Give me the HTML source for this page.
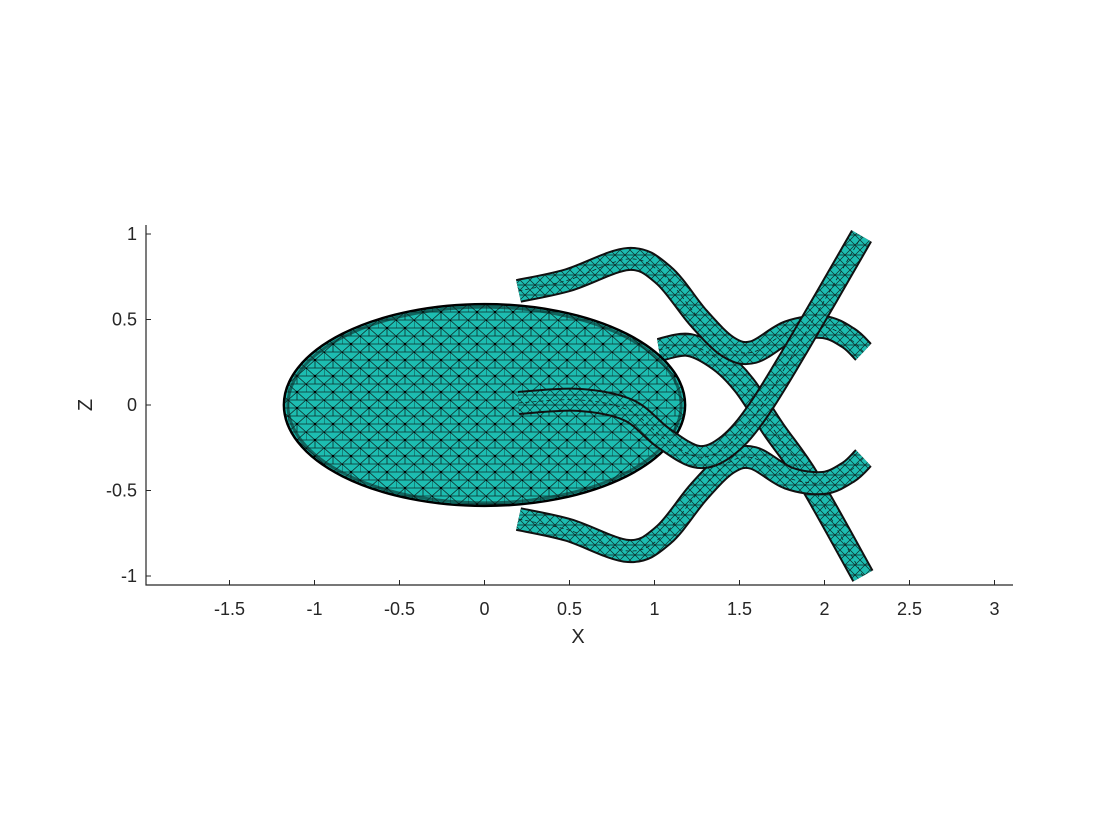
<!DOCTYPE html>
<html><head><meta charset="utf-8"><style>
html,body{margin:0;padding:0;background:#fff;}
svg{display:block;font-family:"Liberation Sans",Arial,sans-serif;}
</style></head><body>
<svg id="chart" width="1120" height="840" viewBox="0 0 1120 840">
<defs>
<pattern id="mesh" width="18" height="16" patternUnits="userSpaceOnUse">
<rect width="18" height="16" fill="#1dbdb1"/>
<path d="M0 0 L18 0 M0 8 L18 8 M0 16 L18 16 M0 0 L9 8 L18 0 M0 16 L9 8 L18 16 M9 8 L9 16 M0 8 L0 0" stroke="#0d2b28" stroke-width="0.8" fill="none"/>
<circle cx="9" cy="8" r="1.2" fill="#000"/><circle cx="0" cy="0" r="1.2" fill="#000"/>
</pattern>
<pattern id="tmesh" width="10" height="10" patternUnits="userSpaceOnUse">
<rect width="10" height="10" fill="#1dbdb1"/>
<path d="M0 0 L10 10 M10 0 L0 10 M0 5 L10 5" stroke="#0d2b28" stroke-width="0.7" fill="none"/>
</pattern>
</defs>
<g id="axes"></g>
<g id="marks"></g>
</svg>
<script>
const xTicks=[-1.5,-1,-0.5,0,0.5,1,1.5,2,2.5,3];
const zTicks=[-1,-0.5,0,0.5,1];
const ellipseCenter=[0,0];
const ellipseRadii=[1.18,0.59];
const tubeAx=[0.2,0.494,0.847,1.053,1.259,1.435,1.582,1.788,1.994,2.141,2.229];
const tubeAz=[0.667,0.731,0.854,0.760,0.509,0.339,0.310,0.427,0.456,0.392,0.310];
const tubeBx=[0.2,0.494,0.847,1.053,1.259,1.435,1.582,1.788,1.994,2.141,2.229];
const tubeBz=[-0.667,-0.731,-0.854,-0.760,-0.509,-0.339,-0.310,-0.427,-0.456,-0.392,-0.310];
const tubeCx=[0.2,0.553,0.847,1.053,1.259,1.435,1.612,1.847,2.218];
const tubeCz=[0.012,0.03,-0.03,-0.193,-0.304,-0.234,-0.029,0.351,0.988];
const tubeDx=[1.026,1.203,1.38,1.527,1.703,1.909,2.226];
const tubeDz=[0.322,0.351,0.263,0.117,-0.146,-0.439,-1.0];

const X=v=>484.5+(v)*170;
const Z=v=>405-(v)*171;
const NS='http://www.w3.org/2000/svg';
function mk(tag,attrs,parent){const e=document.createElementNS(NS,tag);for(const k in attrs)e.setAttribute(k,attrs[k]);parent.appendChild(e);return e;}
const axes=document.getElementById('axes');
const marks=document.getElementById('marks');
const L=146,R=1013,T=225,B=585;
const ax=mk('path',{d:`M${L} ${T} L${L} ${B} L${R} ${B}`,stroke:'#262626','stroke-width':1.2,fill:'none'},axes);


xTicks.forEach(t=>{
 const tk=mk('line',{x1:X(t),x2:X(t),y1:B,y2:B-5,stroke:'#262626','stroke-width':1},axes);
 
 
 const tx=mk('text',{x:X(t),y:615,'text-anchor':'middle','font-size':18,fill:'#262626'},axes);
 tx.textContent=String(t);
 
 
});
zTicks.forEach(t=>{
 const tk=mk('line',{x1:L,x2:L+5,y1:Z(t),y2:Z(t),stroke:'#262626','stroke-width':1},axes);
 
 
 const tx=mk('text',{x:L-9,y:Z(t)+6,'text-anchor':'end','font-size':18,fill:'#262626'},axes);
 tx.textContent=String(t);
 
 
});
const xl=mk('text',{x:578,y:643,'text-anchor':'middle','font-size':20,fill:'#262626'},axes);
xl.textContent='X';


const zl=mk('text',{x:0,y:0,'text-anchor':'middle','font-size':20,fill:'#262626',transform:'translate(92,405) rotate(-90)'},axes);
zl.textContent='Z';



function pathFor(xs,zs){
 const p=xs.map((x,i)=>[X(x),Z(zs[i])]);
 let d=`M${p[0][0]} ${p[0][1]}`;
 for(let i=0;i<p.length-1;i++){
  const p0=p[Math.max(0,i-1)],p1=p[i],p2=p[i+1],p3=p[Math.min(p.length-1,i+2)];
  const c1=[p1[0]+(p2[0]-p0[0])/6,p1[1]+(p2[1]-p0[1])/6];
  const c2=[p2[0]-(p3[0]-p1[0])/6,p2[1]-(p3[1]-p1[1])/6];
  d+=` C${c1[0]} ${c1[1]} ${c2[0]} ${c2[1]} ${p2[0]} ${p2[1]}`;
 }
 return d;
}
function tube(xs,zs,name){
 const g=mk('g',{},marks);
 
 
 const d=pathFor(xs,zs);
 mk('path',{d,stroke:'#111','stroke-width':24,fill:'none','stroke-linecap':'butt','stroke-linejoin':'round'},g);
 mk('path',{d,stroke:'url(#tmesh)','stroke-width':20,fill:'none','stroke-linecap':'butt','stroke-linejoin':'round'},g);
 mk('path',{d,stroke:'#0d2b28','stroke-width':0.8,fill:'none','stroke-dasharray':'4 3'},g);
}
tube(tubeDx,tubeDz,'tube-d');
const eg=mk('g',{},marks);


const rx=ellipseRadii[0]*170, rz=ellipseRadii[1]*171;
mk('ellipse',{cx:X(ellipseCenter[0]),cy:Z(ellipseCenter[1]),rx,ry:rz,fill:'url(#mesh)',stroke:'#000','stroke-width':2.5},eg);
mk('ellipse',{cx:X(ellipseCenter[0]),cy:Z(ellipseCenter[1]),rx:rx-4,ry:rz-3,fill:'none',stroke:'#0a2a27','stroke-width':3,opacity:0.6},eg);
tube(tubeAx,tubeAz,'tube-a');
tube(tubeBx,tubeBz,'tube-b');
tube(tubeCx,tubeCz,'tube-c');
</script>
</body></html>
